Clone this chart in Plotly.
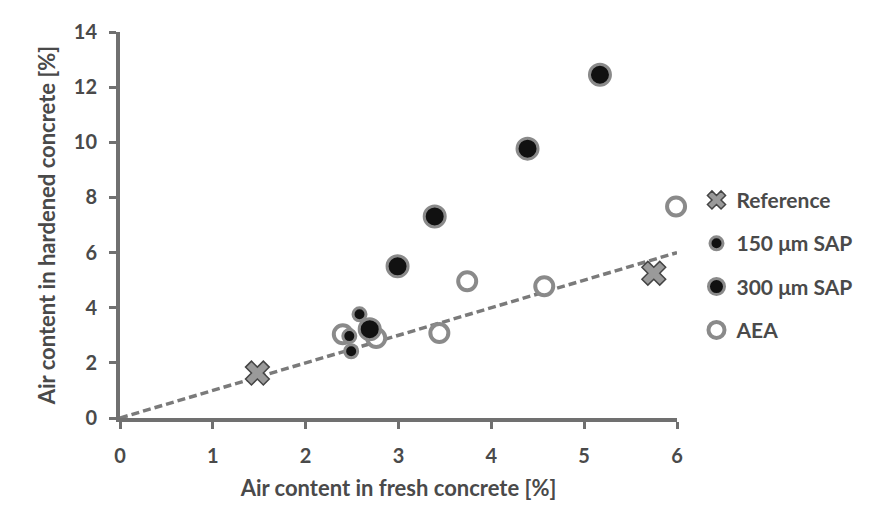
import plotly.graph_objects as go

# Data
ref_x = [1.48, 5.75]
ref_y = [1.63, 5.25]

sap150_x = [2.58, 2.47, 2.49]
sap150_y = [3.76, 2.97, 2.42]

sap300_x = [2.69, 2.99, 3.39, 4.39, 5.17]
sap300_y = [3.22, 5.50, 7.31, 9.77, 12.45]

aea_x = [2.40, 2.76, 3.44, 3.74, 4.57, 5.99]
aea_y = [3.04, 2.90, 3.08, 4.96, 4.78, 7.67]

fit_x = [0, 6]
fit_y = [0, 6]

x_ticks = [0, 1, 2, 3, 4, 5, 6]
y_ticks = [0, 2, 4, 6, 8, 10, 12, 14]

FONT = "Lato"
TXT = "#4a4a4a"
GRAY = "#8a8a8a"

fig = go.Figure()

fig.add_trace(go.Scatter(
    x=fit_x, y=fit_y, mode="lines", showlegend=False,
    line=dict(color="#7a7a7a", width=3.5, dash="8px,4px"), hoverinfo="skip"))

fig.add_trace(go.Scatter(
    x=aea_x, y=aea_y, mode="markers", name="AEA", legendrank=4,
    legendgroup="d", cliponaxis=False,
    marker=dict(symbol="circle", size=18, color="white",
                line=dict(color=GRAY, width=4))))

fig.add_trace(go.Scatter(
    x=sap150_x, y=sap150_y, mode="markers", name="150 μm SAP", legendrank=2,
    legendgroup="b", cliponaxis=False,
    marker=dict(symbol="circle", size=13, color="#111111",
                line=dict(color=GRAY, width=3))))

fig.add_trace(go.Scatter(
    x=sap300_x, y=sap300_y, mode="markers", name="300 μm SAP", legendrank=3,
    legendgroup="c", cliponaxis=False,
    marker=dict(symbol="circle", size=21, color="#111111",
                line=dict(color=GRAY, width=3))))

fig.add_trace(go.Scatter(
    x=ref_x, y=ref_y, mode="markers", name="Reference", legendrank=1,
    legendgroup="a", cliponaxis=False,
    marker=dict(symbol="x", size=21, color="#9a9a9a",
                line=dict(color="#444444", width=1.5))))

axis_common = dict(
    showgrid=False, zeroline=False, showline=True, linecolor="#707070",
    linewidth=4, ticks="outside", ticklen=7, tickwidth=3, tickcolor="#707070",
    automargin=False,
    tickfont=dict(family=FONT, size=20, color=TXT, weight="bold"),
)

fig.update_xaxes(
    range=[0, 6], tickvals=x_ticks, ticktext=[str(v) for v in x_ticks],
    ticklabelstandoff=10,
    title=dict(text="Air content in fresh concrete [%]", standoff=16,
               font=dict(family=FONT, size=22, color=TXT, weight="bold")),
    **axis_common)

fig.update_yaxes(
    range=[0, 14], tickvals=y_ticks, ticktext=[str(v) for v in y_ticks],
    ticklabelstandoff=8,
    title=dict(text="Air content in hardened concrete [%]", standoff=13,
               font=dict(family=FONT, size=22, color=TXT, weight="bold")),
    **axis_common)

fig.update_layout(
    width=886, height=518,
    margin=dict(l=112, r=217, t=24, b=108),
    paper_bgcolor="white", plot_bgcolor="white",
    legend=dict(x=1.035, y=0.617, xanchor="left", yanchor="top",
                tracegroupgap=13, itemsizing="trace", itemwidth=30,
                font=dict(family=FONT, size=21, color=TXT, weight="bold"),
                bgcolor="rgba(0,0,0,0)"),
)

fig.write_html("out.html")
